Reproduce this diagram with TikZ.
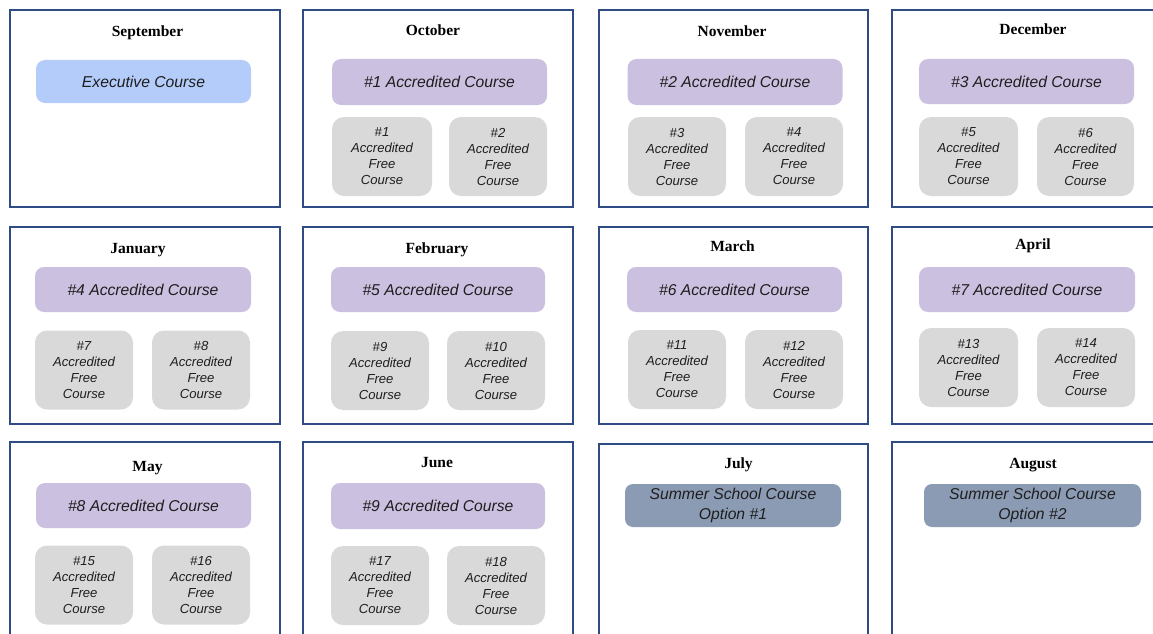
\documentclass[tikz,border=0pt]{standalone}
\usepackage{fontspec}
\setmainfont{Liberation Serif}
\newfontfamily\coursefont{Liberation Sans}

\definecolor{framecol}{RGB}{48,76,132}
\definecolor{execblue}{RGB}{180,204,250}
\definecolor{accpurple}{RGB}{203,192,223}
\definecolor{freegray}{RGB}{217,217,217}
\definecolor{summerblue}{RGB}{140,155,180}
\definecolor{coursetext}{RGB}{30,30,30}

\tikzset{
  monthframe/.style={draw=framecol, line width=1.2pt, minimum width=270,
    minimum height=197, inner sep=0pt},
  monthtitle/.style={anchor=base, inner sep=0pt, text=black,
    font=\fontsize{15.5}{18}\selectfont\bfseries},
  course/.style={rounded corners=9pt, inner sep=0pt, align=center,
    text=coursetext, font=\coursefont\itshape\fontsize{15.7}{20.5}\selectfont},
  execbox/.style={course, fill=execblue, minimum width=215, minimum height=43},
  accbox/.style={course, fill=accpurple, minimum width=215, minimum height=46},
  freebox/.style={course, rounded corners=12pt, fill=freegray, minimum width=98,
    minimum height=79, font=\coursefont\itshape\fontsize{13.1}{16}\selectfont},
  summerbox/.style={course, rounded corners=8pt, fill=summerblue, minimum width=216,
    minimum height=43},
}

\newcommand{\freetext}[1]{\#{}#1\\Accredited\\Free\\Course}

\begin{document}
\begin{tikzpicture}[x=1pt, y=-1pt]
  \useasboundingbox (0,0) rectangle (1153,634);
  \clip (0,0) rectangle (1153,634);

  % month frames: three rows of four
  \node[monthframe] (sepF) at (145,108.5) {};
  \node[monthframe] (octF) at (438,108.5) {};
  \node[monthframe, minimum width=269] (novF) at (733.5,108.5) {};
  \node[monthframe] (decF) at (1027,108.5) {};
  \node[monthframe] (janF) at (145,325.5) {};
  \node[monthframe] (febF) at (438,325.5) {};
  \node[monthframe, minimum width=269] (marF) at (733.5,325.5) {};
  \node[monthframe] (aprF) at (1027,325.5) {};
  \node[monthframe, minimum height=200] (mayF) at (145,542) {};
  \node[monthframe, minimum height=200] (junF) at (438,542) {};
  \node[monthframe, minimum width=269, minimum height=198] (julF) at (733.5,543) {};
  \node[monthframe, minimum height=200] (augF) at (1027,542) {};

  % month titles
  \node[monthtitle] (sepT) at (147.5,37) {September};
  \node[monthtitle] (octT) at (433,36) {October};
  \node[monthtitle] (novT) at (732,37) {November};
  \node[monthtitle] (decT) at (1033,34.5) {December};
  \node[monthtitle] (janT) at (138,253) {January};
  \node[monthtitle] (febT) at (437,253) {February};
  \node[monthtitle] (marT) at (732.5,251) {March};
  \node[monthtitle] (aprT) at (1033,249.5) {April};
  \node[monthtitle] (mayT) at (147.5,471) {May};
  \node[monthtitle] (junT) at (437,467) {June};
  \node[monthtitle] (julT) at (738.5,468) {July};
  \node[monthtitle] (augT) at (1033,468) {August};

  % September
  \node[execbox] (exec) at (143.5,81.5) {Executive Course};

  % October
  \node[accbox] (acc1) at (439.5,82) {\#1 Accredited Course};
  \node[freebox, minimum width=100] (free1) at (382,156.5) {\freetext{1}};
  \node[freebox] (free2) at (498,156.5) {\freetext{2}};

  % November
  \node[accbox] (acc2) at (735,82) {\#2 Accredited Course};
  \node[freebox] (free3) at (677,156.5) {\freetext{3}};
  \node[freebox] (free4) at (794,156.5) {\freetext{4}};

  % December
  \node[accbox, minimum height=45] (acc3) at (1026.5,81.5) {\#3 Accredited Course};
  \node[freebox, minimum width=99] (free5) at (968.5,156.5) {\freetext{5}};
  \node[freebox, minimum width=97] (free6) at (1085.5,156.5) {\freetext{6}};

  % January
  \node[accbox, minimum width=216, minimum height=45] (acc4) at (143,289.5) {\#4 Accredited Course};
  \node[freebox] (free7) at (84,370) {\freetext{7}};
  \node[freebox] (free8) at (201,370) {\freetext{8}};

  % February
  \node[accbox, minimum width=214, minimum height=45] (acc5) at (438,289.5) {\#5 Accredited Course};
  \node[freebox] (free9) at (380,370.5) {\freetext{9}};
  \node[freebox] (free10) at (496,370.5) {\freetext{10}};

  % March
  \node[accbox, minimum height=45] (acc6) at (734.5,289.5) {\#6 Accredited Course};
  \node[freebox] (free11) at (677,369.5) {\freetext{11}};
  \node[freebox] (free12) at (794,369.5) {\freetext{12}};

  % April
  \node[accbox, minimum width=216, minimum height=45] (acc7) at (1027,289.5) {\#7 Accredited Course};
  \node[freebox, minimum width=99] (free13) at (968.5,367.5) {\freetext{13}};
  \node[freebox] (free14) at (1086,367.5) {\freetext{14}};

  % May
  \node[accbox, minimum height=45] (acc8) at (143.5,505.5) {\#8 Accredited Course};
  \node[freebox] (free15) at (84,585) {\freetext{15}};
  \node[freebox] (free16) at (201,585) {\freetext{16}};

  % June
  \node[accbox, minimum width=214] (acc9) at (438,506) {\#9 Accredited Course};
  \node[freebox] (free17) at (380,585.5) {\freetext{17}};
  \node[freebox] (free18) at (496,585.5) {\freetext{18}};

  % July and August
  \node[summerbox] (summer1) at (733,505.5) {Summer School Course\\Option \#1};
  \node[summerbox, minimum width=217] (summer2) at (1032.5,505.5) {Summer School Course\\Option \#2};
\end{tikzpicture}
\end{document}
